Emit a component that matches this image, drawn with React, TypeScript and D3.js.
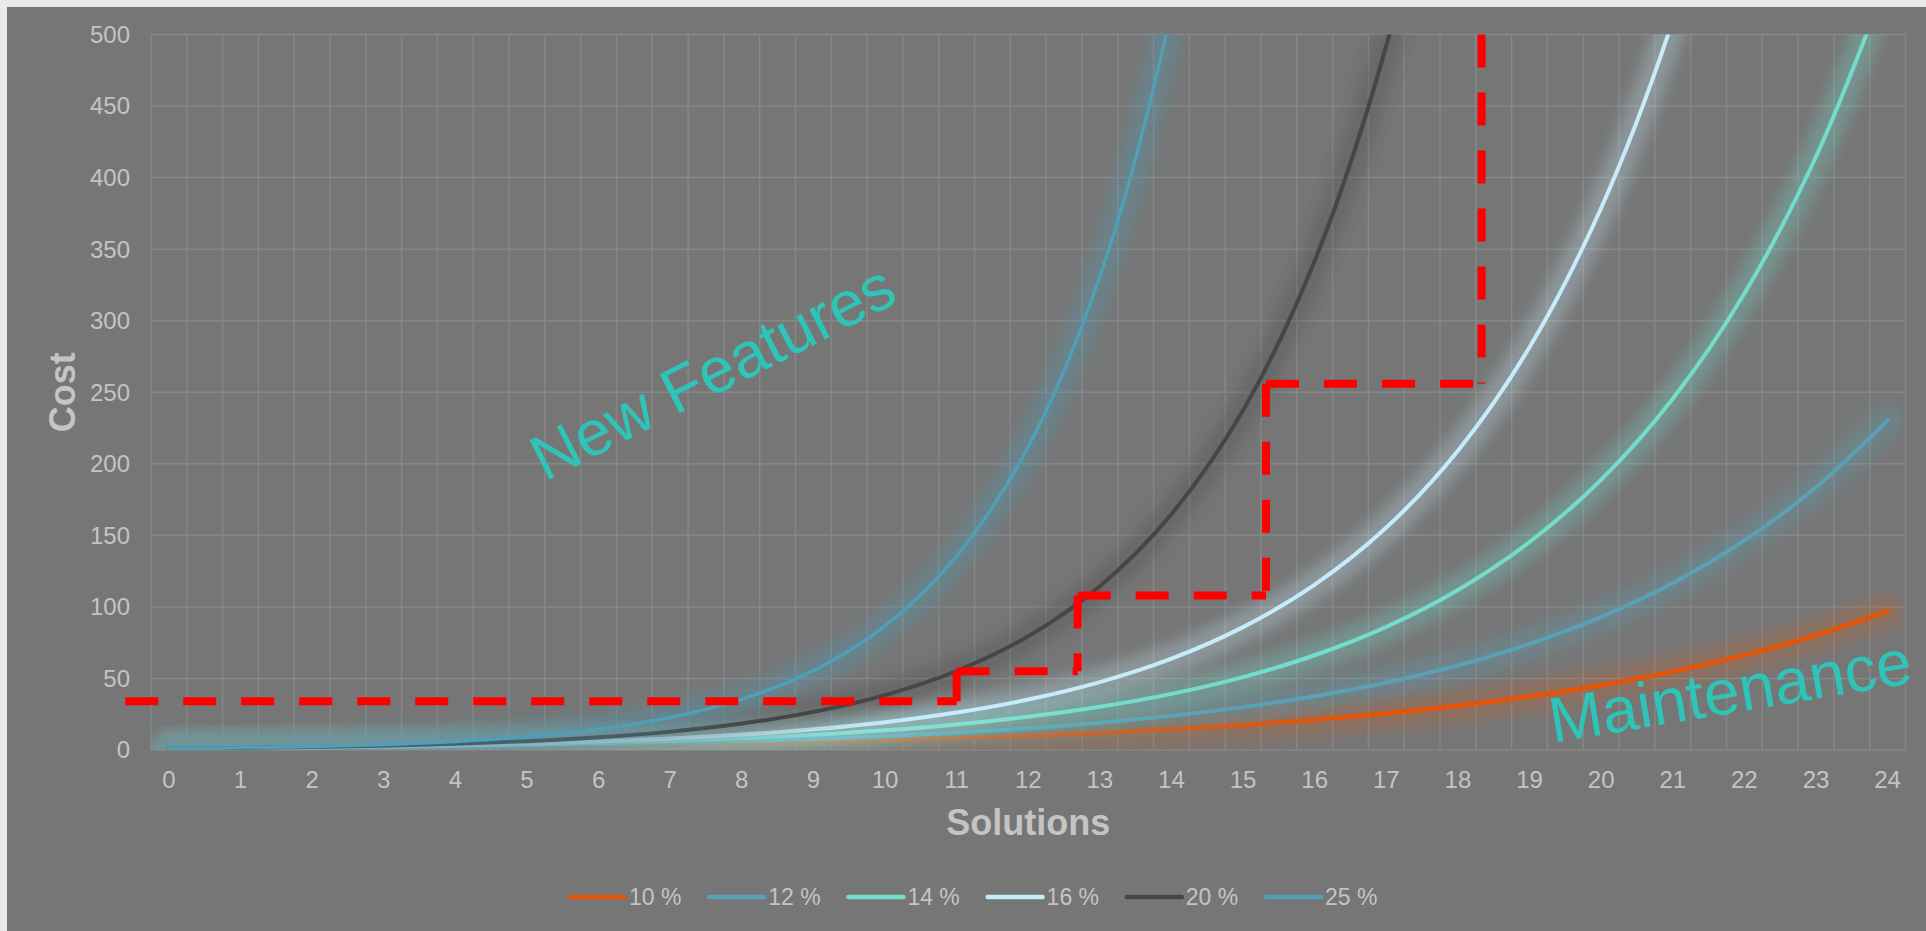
import React from "react";
import * as d3 from "d3";

const categories: number[] = [0, 1, 2, 3, 4, 5, 6, 7, 8, 9, 10, 11, 12, 13, 14, 15, 16, 17, 18, 19, 20, 21, 22, 23, 24];
const yTicks: number[] = [0, 50, 100, 150, 200, 250, 300, 350, 400, 450, 500];

const seriesNames: string[] = ["10 %", "12 %", "14 %", "16 %", "20 %", "25 %"];
const seriesColors: string[] = ["#e65206", "#5aa1b6", "#74dccb", "#c6ecfb", "#464646", "#4f9fb6"];
const seriesWidths: number[] = [4.5, 4, 4, 4, 4, 3.5];
const glowOpacity: number[] = [0.22, 0.3, 0.3, 0.28, 0.3, 0.32];

const s10: (number | null)[] = [1, 1.21, 1.46, 1.77, 2.14, 2.59, 3.14, 3.8, 4.59, 5.56, 6.73, 8.14, 9.85, 11.92, 14.42, 17.45, 21.11, 25.55, 30.91, 37.4, 45.26, 54.76, 66.26, 80.18, 97.02];
const s12: (number | null)[] = [1, 1.25, 1.57, 1.97, 2.48, 3.11, 3.9, 4.89, 6.13, 7.69, 9.65, 12.1, 15.18, 19.04, 23.88, 29.96, 37.58, 47.14, 59.14, 74.18, 93.05, 116.72, 146.42, 183.67, 230.39];
const s14: (number | null)[] = [1, 1.3, 1.69, 2.2, 2.85, 3.71, 4.82, 6.26, 8.14, 10.58, 13.74, 17.86, 23.21, 30.17, 39.2, 50.95, 66.21, 86.05, 111.83, 145.34, 188.88, 245.47, 319.01, 414.59, 538.8];
const s16: (number | null)[] = [1, 1.35, 1.81, 2.44, 3.28, 4.41, 5.94, 7.99, 10.75, 14.46, 19.46, 26.19, 35.24, 47.41, 63.8, 85.85, 115.52, 155.45, 209.17, 281.46, 378.74, 509.63, 685.77, 922.78, null];
const s20: (number | null)[] = [1, 1.44, 2.07, 2.99, 4.3, 6.19, 8.92, 12.84, 18.49, 26.62, 38.34, 55.21, 79.5, 114.48, 164.84, 237.38, 341.82, 492.22, 708.8, 1020.67, null, null, null, null, null];
const s25: (number | null)[] = [1, 1.56, 2.44, 3.81, 5.96, 9.31, 14.55, 22.74, 35.53, 55.51, 86.74, 135.53, 211.76, 330.87, 516.99, 807.79, null, null, null, null, null, null, null, null, null];
const seriesValues = [s10, s12, s14, s16, s20, s25];

// red step annotation (data units), drawn segment by segment
const stepX: number[] = [-0.61, 11, 11, 12.69, 12.69, 15.32, 15.32, 18.33, 18.33];
const stepY: number[] = [34, 34, 55, 55, 108, 108, 256, 256, 500];

const W = 1926;
const H = 931;
const PL = 151, PR = 1905.5, PT = 34.5, PB = 750;
const FONT = "'Liberation Sans', Arial, sans-serif";
const TXT = "#c4c4c4";

export default function App() {
  const x = d3.scaleLinear().domain([-0.25, 24.25]).range([PL, PR]);
  const y = d3.scaleLinear().domain([0, 500]).range([PB, PT]);

  const line = d3
    .line<number | null>()
    .defined((v) => v != null)
    .x((_, i) => x(categories[i]))
    .y((v) => y(v as number))
    .curve(d3.curveCatmullRom.alpha(0.5));

  const vGrid: number[] = [];
  for (let k = 0; k <= 49; k++) vGrid.push(-0.25 + k * 0.5);

  // segments of the step, each starting at its left / top end
  const segs: { x1: number; y1: number; x2: number; y2: number }[] = [];
  for (let i = 0; i < stepX.length - 1; i++) {
    let ax = x(stepX[i]), ay = y(stepY[i]), bx = x(stepX[i + 1]), by = y(stepY[i + 1]);
    if (ax > bx || ay > by) {
      [ax, bx] = [bx, ax];
      [ay, by] = [by, ay];
    }
    segs.push({ x1: ax, y1: ay, x2: bx, y2: by });
  }

  const legendStart = 570;
  const legendStep = 139.2;
  const legendY = 897;

  return (
    <svg width={W} height={H} style={{ position: "absolute", left: 0, top: 0 }}>
      <defs>
        <clipPath id="plotClip">
          <rect x={PL} y={PT} width={PR - PL} height={PB - PT} />
        </clipPath>
        <filter id="glow" filterUnits="userSpaceOnUse" x={0} y={0} width={W} height={H}>
          <feGaussianBlur stdDeviation={7} />
        </filter>
      </defs>
      <rect x={0} y={0} width={W} height={H} fill="#e8e9ea" />
      <rect x={7} y={7} width={W - 7} height={H - 7} fill="#767676" />

      {/* grid */}
      <g stroke="#878787" strokeWidth={1.5}>
        {vGrid.map((g, i) => (
          <line key={"v" + i} x1={x(g)} x2={x(g)} y1={PT} y2={PB} />
        ))}
        {yTicks.map((t) => (
          <line key={"h" + t} x1={PL} x2={PR} y1={y(t)} y2={y(t)} />
        ))}
      </g>

      {/* tick labels */}
      <g fontFamily={FONT} fontSize={24} fill={TXT}>
        {yTicks.map((t) => (
          <text key={"yt" + t} x={130} y={y(t)} dy="0.35em" textAnchor="end">
            {t}
          </text>
        ))}
        {categories.map((c) => (
          <text key={"xt" + c} x={x(c)} y={788} textAnchor="middle">
            {c}
          </text>
        ))}
      </g>

      {/* series */}
      <g clipPath="url(#plotClip)">
        {seriesValues.map((vals, si) => (
          <g key={"s" + si}>
            <path
              d={line(vals) || ""}
              fill="none"
              stroke={seriesColors[si]}
              strokeWidth={30}
              strokeOpacity={glowOpacity[si]}
              strokeLinecap="round"
              filter="url(#glow)"
            />
            <path
              d={line(vals) || ""}
              fill="none"
              stroke={seriesColors[si]}
              strokeWidth={seriesWidths[si]}
              strokeLinecap="round"
            />
          </g>
        ))}
      </g>

      {/* red dashed step */}
      <g stroke="#ff0000" strokeWidth={8} strokeDasharray="33 25">
        {segs.map((s, i) => (
          <line key={"st" + i} x1={s.x1} y1={s.y1} x2={s.x2} y2={s.y2} />
        ))}
      </g>

      {/* annotations */}
      <text
        fontFamily={FONT}
        fontSize={64}
        fill="#2ec4b8"
        transform="translate(545,482) rotate(-27)"
      >
        New Features
      </text>
      <text
        fontFamily={FONT}
        fontSize={64}
        fill="#2ec4b8"
        transform="translate(1553,743) rotate(-9.5)"
      >
        Maintenance
      </text>

      {/* axis titles */}
      <text
        fontFamily={FONT}
        fontSize={36}
        fontWeight="bold"
        fill={TXT}
        textAnchor="middle"
        transform={`translate(75,${(PT + PB) / 2}) rotate(-90)`}
      >
        Cost
      </text>
      <text
        fontFamily={FONT}
        fontSize={36}
        fontWeight="bold"
        fill={TXT}
        textAnchor="middle"
        x={(PL + PR) / 2}
        y={835}
      >
        Solutions
      </text>

      {/* legend */}
      <g fontFamily={FONT} fontSize={23} fill={TXT}>
        {seriesNames.map((n, i) => {
          const lx = legendStart + i * legendStep;
          return (
            <g key={"lg" + i}>
              <line
                x1={lx}
                x2={lx + 55}
                y1={legendY}
                y2={legendY}
                stroke={seriesColors[i]}
                strokeWidth={4.5}
                strokeLinecap="round"
              />
              <text x={lx + 59} y={legendY} dy="0.35em">
                {n}
              </text>
            </g>
          );
        })}
      </g>
    </svg>
  );
}
